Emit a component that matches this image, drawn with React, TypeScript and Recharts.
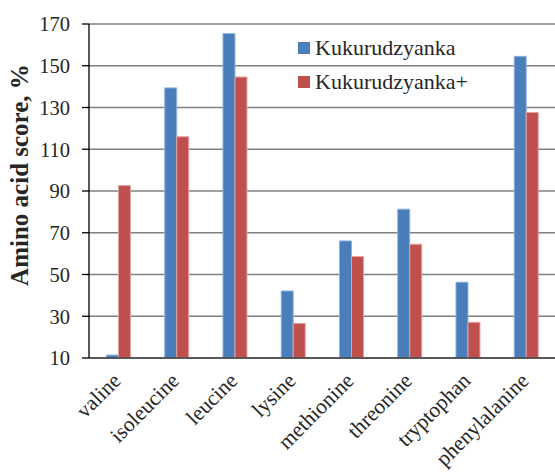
import React from 'react';
import { BarChart, Bar, XAxis, YAxis, CartesianGrid } from 'recharts';

const categories = ['valine', 'isoleucine', 'leucine', 'lysine', 'methionine', 'threonine', 'tryptophan', 'phenylalanine'];
const kukurudzyanka = [11.4, 139.4, 165.4, 42.1, 66.1, 81.3, 46.3, 154.5];
const kukurudzyankaPlus = [92.6, 116.0, 144.6, 26.6, 58.6, 64.5, 27.1, 127.6];
const yTicks = [10, 30, 50, 70, 90, 110, 130, 150, 170];
const seriesNames = ['Kukurudzyanka', 'Kukurudzyanka+'];
const seriesColors = ['#4A7EBB', '#C0504D'];
const seriesEdges = ['#8FB2DE', '#E3A3A1'];

const data = categories.map((c, i) => ({
  name: c,
  a: kukurudzyanka[i],
  b: kukurudzyankaPlus[i],
}));

const FONT = 'Liberation Serif, Times New Roman, serif';

const XTick = (props: any) => {
  const { x, y, payload } = props;
  const ax = x + 4;
  const ay = y + 24;
  return (
    <text
      x={ax}
      y={ay}
      transform={`rotate(-45, ${ax}, ${ay})`}
      textAnchor="end"
      style={{ fontFamily: FONT }}
      fontSize={21.5}
      fill="#262626"
    >
      {payload.value}
    </text>
  );
};

export default function App() {
  return (
    <div style={{ position: 'absolute', left: 0, top: 0, width: 555, height: 472, background: '#fff', fontFamily: FONT }}>
      <BarChart
        width={555}
        height={472}
        data={data}
        margin={{ top: 24, right: 0, left: 0, bottom: 0 }}
        barCategoryGap="30%"
        barGap={0}
        style={{ fontFamily: FONT }}
      >
        <CartesianGrid vertical={false} stroke="#7F7F7F" strokeWidth={1.3} />
        <XAxis
          dataKey="name"
          height={114}
          tickLine={false}
          tickSize={0}
          tickMargin={0}
          axisLine={{ stroke: '#404040', strokeWidth: 1.3 }}
          tick={<XTick />}
          interval={0}
        />
        <YAxis
          width={89}
          domain={[10, 170]}
          ticks={yTicks}
          allowDataOverflow
          tickSize={7}
          tickMargin={12}
          axisLine={{ stroke: '#000', strokeWidth: 1.3 }}
          tickLine={{ stroke: '#000', strokeWidth: 1.3 }}
          tick={{ fontFamily: FONT, fontSize: 20.5, fill: '#262626' }}
          label={() => (
            <text
              x={28}
              y={175}
              transform={`rotate(-90, 28, 175)`}
              textAnchor="middle"
              style={{ fontFamily: FONT }}
              fontWeight="bold"
              fontSize={25}
              fill="#262626"
            >
              Amino acid score, %
            </text>
          )}
        />
        <Bar dataKey="a" name={seriesNames[0]} fill={seriesColors[0]} stroke={seriesEdges[0]} strokeWidth={1} isAnimationActive={false} />
        <Bar dataKey="b" name={seriesNames[1]} fill={seriesColors[1]} stroke={seriesEdges[1]} strokeWidth={1} isAnimationActive={false} />
      </BarChart>
      <div
        style={{
          position: 'absolute',
          left: 298,
          top: 31,
          fontFamily: FONT,
          fontSize: 22,
          color: '#262626',
          lineHeight: '34px',
        }}
      >
        {seriesNames.map((n, i) => (
          <div key={n} style={{ display: 'flex', alignItems: 'center', height: 34 }}>
            <span style={{ display: 'inline-block', width: 12, height: 12, background: seriesColors[i], marginRight: 5 }} />
            <span>{n}</span>
          </div>
        ))}
      </div>
    </div>
  );
}
